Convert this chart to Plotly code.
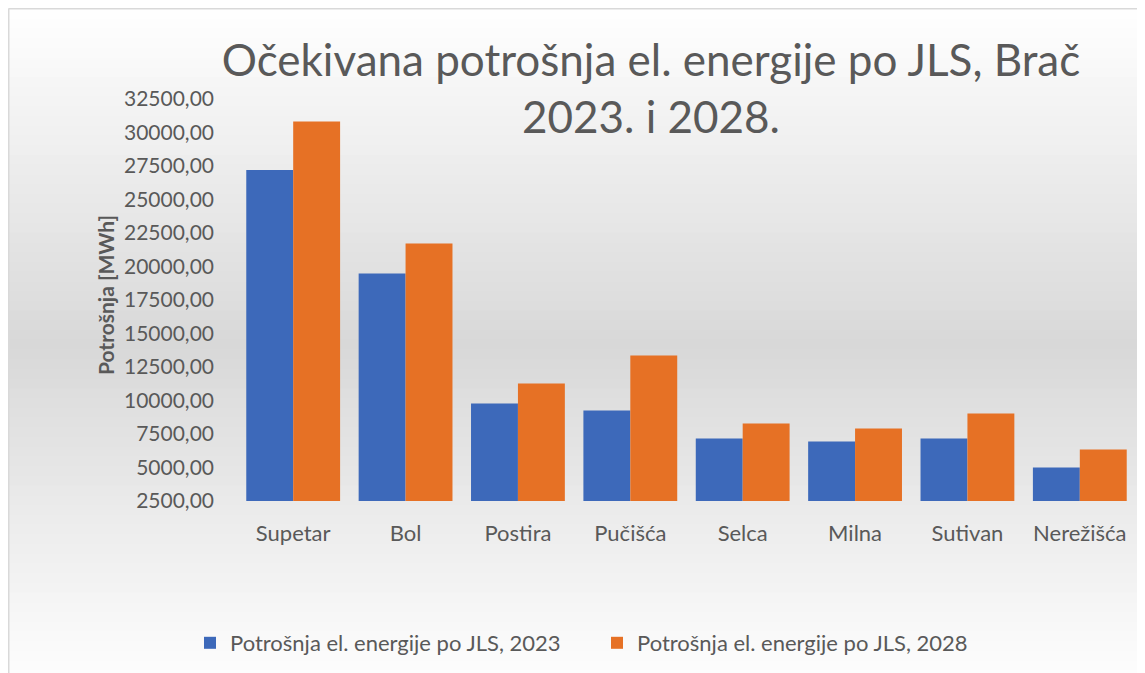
import plotly.graph_objects as go

categories = ["Supetar", "Bol", "Postira", "Pučišća", "Selca", "Milna", "Sutivan", "Nerežišća"]
values_2023 = [27200, 19480, 9780, 9250, 7160, 6940, 7160, 5000]
values_2028 = [30820, 21710, 11270, 13360, 8280, 7910, 9030, 6340]
series_names = ["Potrošnja el. energije po JLS, 2023", "Potrošnja el. energije po JLS, 2028"]
tick_vals = [2500, 5000, 7500, 10000, 12500, 15000, 17500, 20000, 22500, 25000, 27500, 30000, 32500]
tick_text = [f"{v},00" for v in tick_vals]
title_text = "Očekivana potrošnja el. energije po JLS, Brač<br>2023. i 2028."
y_title = "Potrošnja [MWh]"

W, H = 1145, 673
OFF = 8  # page body margin
ML, MR, MT, MB = 229, 17, 91, 180
PW = W - ML - MR
PH = H - MT - MB

def px_x(px):  # screen px -> paper
    return (px - OFF - ML) / PW

def px_y(py):
    return (H - MB - (py - OFF)) / PH

FONT = "Lato"
TXT = "#595959"

fig = go.Figure()
fig.add_trace(go.Bar(x=categories, y=values_2023, name=series_names[0],
                     marker=dict(color="#3D69BA", line=dict(width=0))))
fig.add_trace(go.Bar(x=categories, y=values_2028, name=series_names[1],
                     marker=dict(color="#E67125", line=dict(width=0))))

# background vertical gradient (white -> light gray -> white)
shapes = []
N = 70
top, mid, bot = 9, 345, 690
for i in range(N):
    y0 = top + (bot - top) * i / N
    y1 = top + (bot - top) * (i + 1) / N + 0.8
    yc = (y0 + y1) / 2
    if yc <= mid:
        g = 255 - (255 - 216) * (yc - top) / (mid - top)
    else:
        g = 216 + (255 - 216) * (yc - mid) / (bot - mid)
    g = int(round(g))
    shapes.append(dict(type="rect", xref="paper", yref="paper", layer="below",
                       x0=px_x(8), x1=px_x(W + 20), y0=px_y(y1), y1=px_y(y0),
                       fillcolor=f"rgb({g},{g},{g})", line=dict(width=0)))
# chart frame
shapes.append(dict(type="line", xref="paper", yref="paper", x0=px_x(8.5), x1=px_x(8.5),
                   y0=px_y(8.5), y1=px_y(H + 20), line=dict(color="#D9D9D9", width=2)))
shapes.append(dict(type="line", xref="paper", yref="paper", x0=px_x(8.5), x1=px_x(W + 20),
                   y0=px_y(8.5), y1=px_y(8.5), line=dict(color="#D9D9D9", width=2)))

fig.update_layout(
    width=W, height=H,
    margin=dict(l=ML, r=MR, t=MT, b=MB, autoexpand=False),
    paper_bgcolor="white",
    plot_bgcolor="rgba(0,0,0,0)",
    barmode="group",
    bargap=0.165,
    bargroupgap=0,
    font=dict(family=FONT, color=TXT),
    title=dict(text=title_text, x=(651 - OFF) / W, xanchor="center",
               y=1 - 68 / H, yanchor="top", yref="container",
               font=dict(family=FONT, size=44, color=TXT)),
    xaxis=dict(showgrid=False, showline=False, zeroline=False, ticks="",
               tickfont=dict(family=FONT, size=22, color=TXT), ticklabelstandoff=17),
    yaxis=dict(range=[2500, 32500], tickvals=tick_vals, ticktext=tick_text,
               showgrid=False, showline=False, zeroline=False, ticks="",
               tickfont=dict(family=FONT, size=21, color=TXT), ticklabelstandoff=22),
    legend=dict(orientation="h", x=px_x(597), xanchor="center", y=px_y(643), yanchor="middle",
                font=dict(family=FONT, size=22, color=TXT), bgcolor="rgba(0,0,0,0)",
                itemwidth=30, entrywidth=362),
    shapes=shapes,
    annotations=[dict(text=f"<b>{y_title}</b>", textangle=-90, xref="paper", yref="paper",
                      x=px_x(105), y=px_y(295), xanchor="center", yanchor="middle",
                      showarrow=False, font=dict(family=FONT, size=21, color=TXT))],
)

fig.write_html("out.html")
